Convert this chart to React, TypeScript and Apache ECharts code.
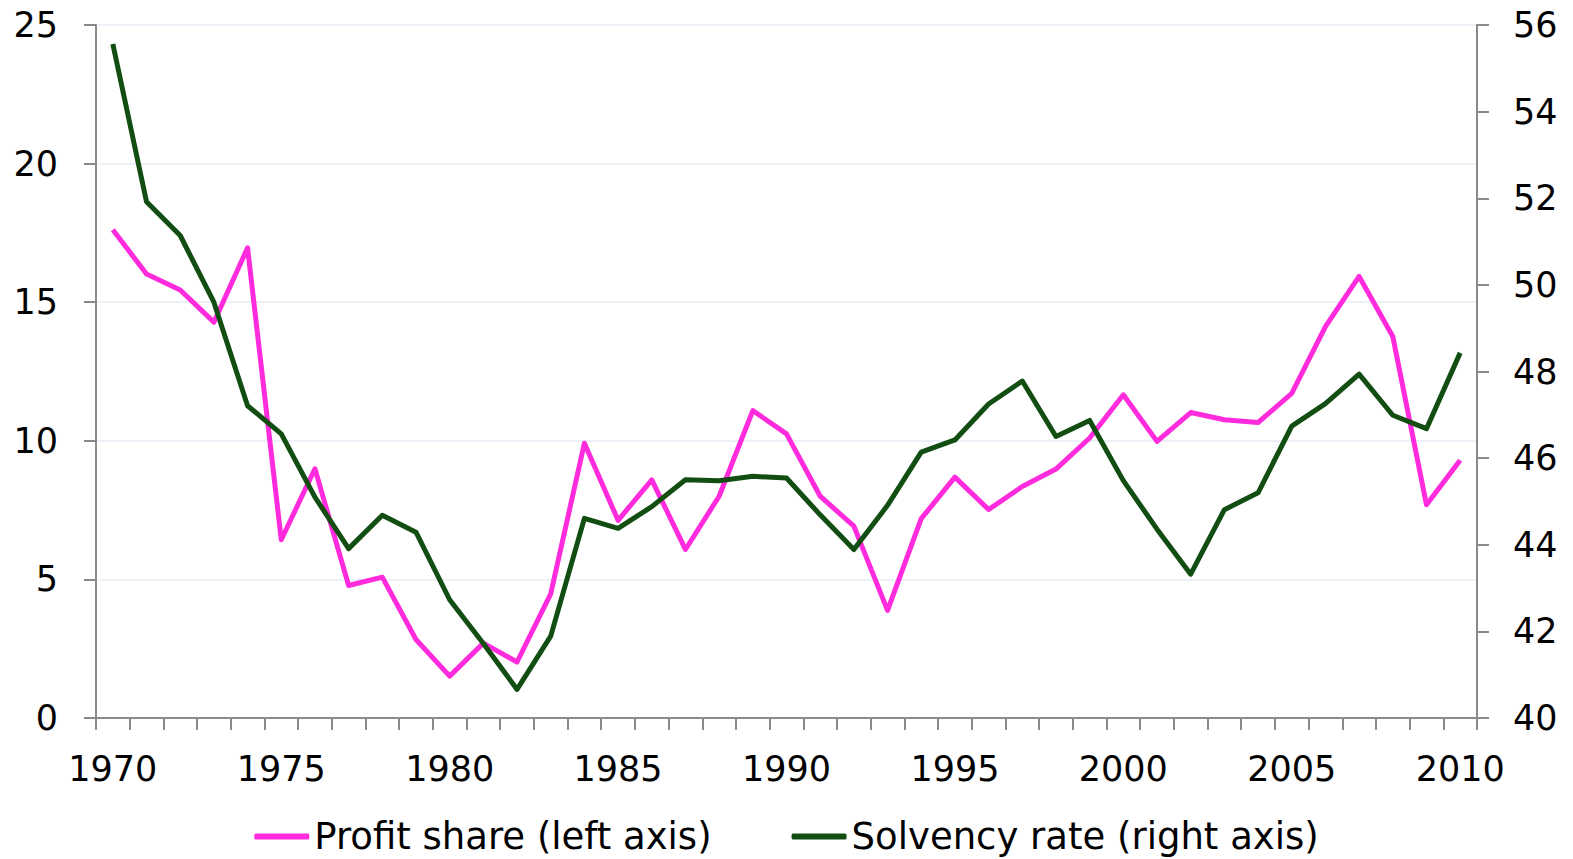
import React, { useEffect, useRef } from "react";
import * as echarts from "echarts";

const years: string[] = [
  "1970","1971","1972","1973","1974","1975","1976","1977","1978","1979",
  "1980","1981","1982","1983","1984","1985","1986","1987","1988","1989",
  "1990","1991","1992","1993","1994","1995","1996","1997","1998","1999",
  "2000","2001","2002","2003","2004","2005","2006","2007","2008","2009","2010",
];

const profitShare: number[] = [
  17.61, 16.02, 15.44, 14.28, 16.96, 6.43, 8.99, 4.78, 5.08, 2.83,
  1.51, 2.7, 2.02, 4.48, 9.91, 7.13, 8.59, 6.08, 8.0, 11.09,
  10.25, 8.0, 6.92, 3.88, 7.19, 8.69, 7.52, 8.35, 8.98, 10.1,
  11.66, 9.98, 11.02, 10.76, 10.66, 11.71, 14.12, 15.93, 13.76, 7.69, 9.3,
];

const solvencyRate: number[] = [
  55.56, 51.92, 51.14, 49.6, 47.21, 46.56, 45.1, 43.91, 44.68, 44.29,
  42.73, 41.72, 40.66, 41.89, 44.61, 44.38, 44.88, 45.5, 45.48, 45.58,
  45.54, 44.69, 43.89, 44.91, 46.14, 46.42, 47.25, 47.78, 46.5, 46.87,
  45.48, 44.36, 43.32, 44.81, 45.2, 46.74, 47.26, 47.94, 46.99, 46.68, 48.43,
];

const seriesNames = ["Profit share (left axis)", "Solvency rate (right axis)"];

const FONT = "DejaVu Sans";
const FS = 35;

export default function App() {
  const ref = useRef<HTMLDivElement>(null);
  useEffect(() => {
    if (!ref.current) return;
    const chart = echarts.init(ref.current, undefined, { renderer: "svg" });
    const axisColor = "#8a8a8a";
    chart.setOption({
      animation: false,
      backgroundColor: "#ffffff",
      textStyle: { fontFamily: FONT },
      grid: { left: 96, right: 96, top: 25, bottom: 141, containLabel: false },
      legend: {
        top: 813,
        left: "center",
        icon: "roundRect",
        itemWidth: 55,
        itemHeight: 6,
        itemGap: 80,
        textStyle: { fontSize: 37, color: "#000", fontFamily: FONT },
        data: seriesNames,
      },
      xAxis: {
        type: "category",
        data: years,
        boundaryGap: true,
        axisLine: { show: true, lineStyle: { color: axisColor, width: 2 } },
        axisTick: { show: true, interval: 0, length: 12, lineStyle: { color: axisColor, width: 2 } },
        axisLabel: { interval: 4, fontSize: FS, color: "#000", margin: 33, fontFamily: FONT },
        splitLine: { show: false },
      },
      yAxis: [
        {
          type: "value",
          min: 0,
          max: 25,
          interval: 5,
          position: "left",
          axisLine: { show: true, lineStyle: { color: axisColor, width: 2 } },
          axisTick: { show: true, length: 12, lineStyle: { color: axisColor, width: 2 } },
          axisLabel: { fontSize: FS, color: "#000", margin: 38, fontFamily: FONT },
          splitLine: { show: true, lineStyle: { color: "#edf1f7", width: 2 } },
        },
        {
          type: "value",
          min: 40,
          max: 56,
          interval: 2,
          position: "right",
          axisLine: { show: true, lineStyle: { color: axisColor, width: 2 } },
          axisTick: { show: true, length: 12, lineStyle: { color: axisColor, width: 2 } },
          axisLabel: { fontSize: FS, color: "#000", margin: 36, fontFamily: FONT },
          splitLine: { show: false },
        },
      ],
      series: [
        {
          name: seriesNames[0],
          type: "line",
          yAxisIndex: 0,
          data: profitShare,
          symbol: "none",
          color: "#ff2bdc",
          lineStyle: { color: "#ff2bdc", width: 5, join: "round" },
        },
        {
          name: seriesNames[1],
          type: "line",
          yAxisIndex: 1,
          data: solvencyRate,
          symbol: "none",
          color: "#124d12",
          lineStyle: { color: "#124d12", width: 5, join: "round" },
          z: 3,
        },
      ],
    });
    return () => chart.dispose();
  }, []);
  return (
    <div
      ref={ref}
      style={{ position: "fixed", left: 0, top: 0, width: 1573, height: 859, background: "#fff" }}
    />
  );
}
